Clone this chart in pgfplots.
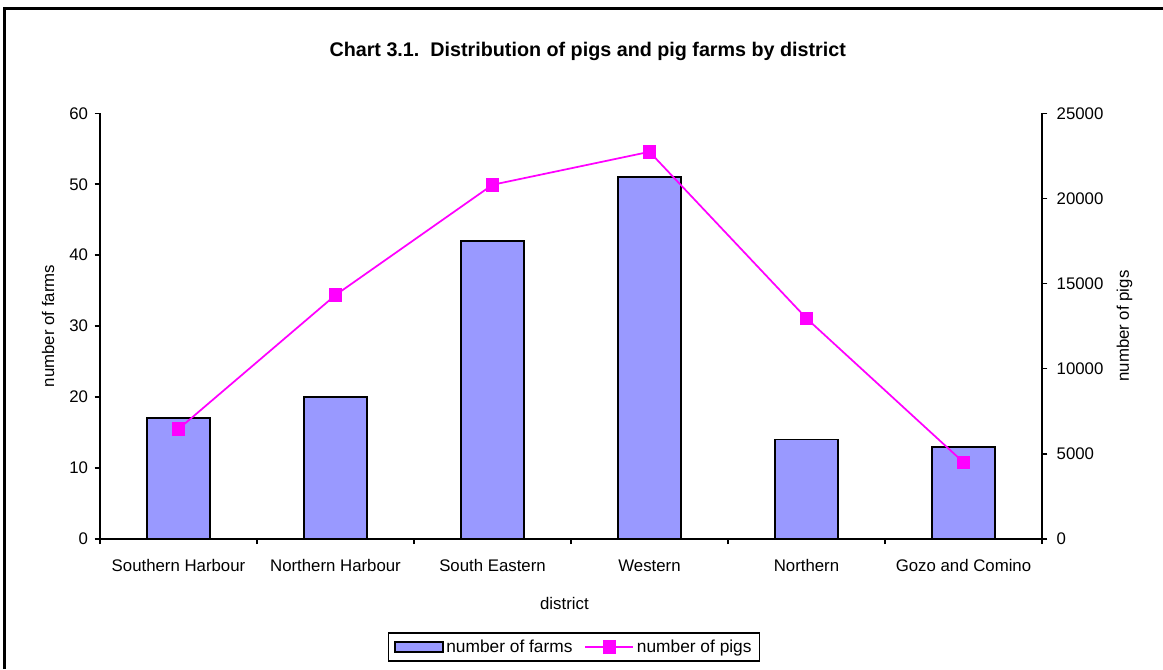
\documentclass[border=0pt]{standalone}
\usepackage{fontspec}
\setmainfont{Liberation Sans}
\usepackage{pgfplots}
\pgfplotsset{compat=1.18}
\definecolor{barblue}{HTML}{9999FF}
\definecolor{pigmag}{HTML}{FF00FF}
\pgfplotsset{
  barlegend/.style={legend image code/.code={\draw[##1] (0pt,-4pt) rectangle (36pt,4pt);}},
  linelegend/.style={legend image code/.code={\draw[mark repeat=2,mark phase=2,##1] plot coordinates {(0pt,0pt) (18pt,0pt) (36pt,0pt)};}},
}
\begin{document}
\begin{tikzpicture}
\useasboundingbox (0,0) rectangle (872.25pt,501.75pt);
\fill[white] (0,0) rectangle (872.25pt,501.75pt);
\draw[line width=2pt] (3.4pt,0) -- (3.4pt,495.4pt) -- (873pt,495.4pt);
\node[font=\bfseries\fontsize{14.8}{17}\selectfont] at (440.8pt,463.5pt) {Chart 3.1.\ \ Distribution of pigs and pig farms by district};

\begin{axis}[
  at={(75pt,97.7pt)}, anchor=south west,
  scale only axis, width=706.5pt, height=319pt,
  xmin=-0.5, xmax=5.5, ymin=0, ymax=60,
  axis x line*=bottom, axis y line*=left,
  xtick={0,...,5},
  xticklabels={Southern Harbour, Northern Harbour, South Eastern, Western, Northern, Gozo and Comino},
  minor xtick={-0.5,0.5,...,5.5},
  ytick={0,10,...,60},
  tick align=outside, major tick length=4pt, minor tick length=4pt,
  axis line style={black, line width=1.4pt},
  tick style={black, line width=1.3pt},
  major x tick style={draw=none},
  ticklabel style={font=\fontsize{12.6}{14}\selectfont},
  xticklabel style={yshift=-8pt},
  yticklabel style={xshift=-1.5pt},
  /pgf/number format/assume math mode=true,
  xlabel={district}, ylabel={number of farms},
  label style={font=\fontsize{12.6}{15}\selectfont},
  xlabel style={at={(axis description cs:0.493,-0.152)}, anchor=center},
  ylabel style={at={(axis description cs:-0.0552,0.5)}, anchor=center},
]
\addplot[ybar, bar width=47pt, fill=barblue, draw=black, line width=1.4pt]
  coordinates {(0,17) (1,20) (2,42) (3,51) (4,14) (5,13)};
\end{axis}

\begin{axis}[
  at={(75pt,97.7pt)}, anchor=south west,
  scale only axis, width=706.5pt, height=319pt,
  xmin=-0.5, xmax=5.5, ymin=0, ymax=25000,
  axis x line=none, axis y line*=right,
  ytick={0,5000,...,25000}, scaled y ticks=false,
  /pgf/number format/1000 sep={},
  /pgf/number format/assume math mode=true,
  tick align=outside, major tick length=4pt,
  axis line style={black, line width=1.4pt},
  tick style={black, line width=1.3pt},
  ticklabel style={font=\fontsize{12.6}{14}\selectfont},
  yticklabel style={xshift=3.5pt},
  ylabel={number of pigs},
  label style={font=\fontsize{12.6}{15}\selectfont},
  ylabel style={at={(axis description cs:1.0877,0.5)}, anchor=center},
  legend columns=2,
  legend style={at={(axis description cs:0.5032,-0.2545)}, anchor=center,
    draw=black, line width=1.3pt, font=\fontsize{13}{15}\selectfont,
    inner xsep=4pt, inner ysep=3pt, /tikz/every even column/.append style={column sep=7pt}},
]
\addlegendimage{barlegend, fill=barblue, draw=black, line width=1.4pt}
\addlegendentry{number of farms}
\addplot[linelegend, pigmag, line width=1.3pt, mark=square*, mark size=4.4pt, mark options={fill=pigmag, draw=pigmag}]
  coordinates {(0,6447) (1,14322) (2,20804) (3,22743) (4,12952) (5,4490)};
\addlegendentry{number of pigs}
\end{axis}
\end{tikzpicture}
\end{document}
